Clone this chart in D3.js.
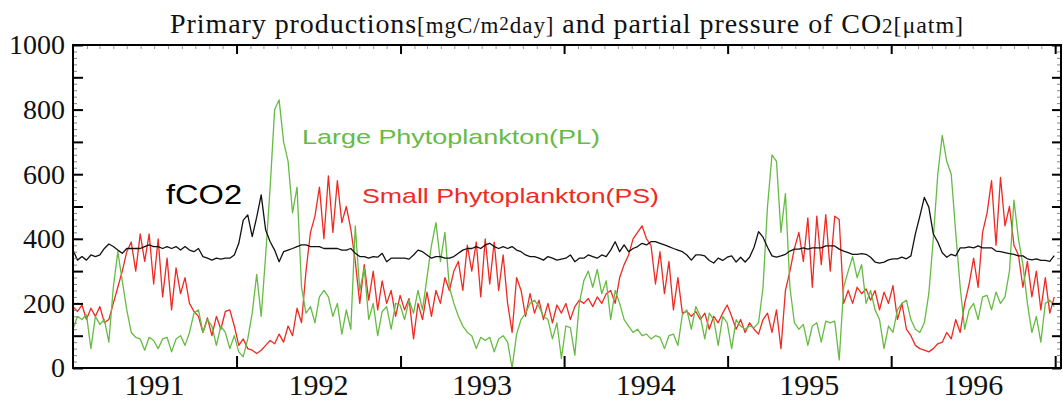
<!DOCTYPE html>
<html>
<head>
<meta charset="utf-8">
<script src="https://cdn.jsdelivr.net/npm/d3@7"></script>
<style>
  body { margin: 0; background: #fff; }
  svg { display: block; }
</style>
</head>
<body>
<svg width="1063" height="403"></svg>
<script>
// series sampled every 10 days from 1 Jan 1991
const startDate = new Date(1991, 0, 1)
const stepDays = 10

const yearLabels = ['1991', '1992', '1993', '1994', '1995', '1996']
const yLabelTicks = [0, 200, 400, 600, 800, 1000]
const yMajorTicks = [0, 100, 200, 300, 400, 500, 600, 700, 800, 900, 1000]

// fCO2 [uatm]
const fco2 = [
  365, 334, 345, 334, 350, 345, 350, 370, 384, 376,
  365, 355, 370, 370, 370, 370, 376, 381, 376, 376,
  370, 376, 370, 376, 365, 376, 365, 360, 370, 345,
  340, 334, 340, 337, 340, 340, 350, 386, 458, 474,
  407, 467, 536, 427, 391, 365, 329, 360, 365, 370,
  376, 381, 381, 376, 376, 376, 370, 370, 370, 370,
  365, 365, 370, 355, 345, 345, 340, 345, 343, 355,
  329, 340, 340, 340, 340, 337, 350, 365, 360, 350,
  340, 345, 345, 340, 340, 345, 355, 365, 370, 370,
  376, 370, 381, 386, 376, 370, 376, 370, 376, 365,
  360, 350, 345, 345, 340, 334, 345, 340, 334, 337,
  340, 350, 329, 340, 340, 350, 345, 340, 350, 345,
  365, 391, 360, 381, 360, 370, 376, 386, 381, 391,
  391, 386, 381, 376, 370, 365, 360, 350, 334, 350,
  350, 347, 333, 325, 340, 333, 343, 347, 328, 343,
  328, 343, 374, 422, 405, 374, 347, 343, 347, 352,
  362, 368, 368, 372, 368, 372, 372, 372, 378, 378,
  378, 368, 362, 357, 352, 352, 354, 352, 343, 328,
  325, 328, 335, 338, 338, 343, 338, 347, 415, 470,
  528, 498, 415, 390, 357, 343, 352, 347, 372, 372,
  375, 372, 378, 372, 372, 372, 362, 360, 357, 354,
  352, 347, 347, 338, 335, 338, 333, 333, 330, 348
]

// Small Phytoplankton (PS) [mgC/m2day]
const ps = [
  190, 175, 195, 150, 185, 160, 190, 140, 150, 200,
  250, 300, 360, 390, 300, 415, 330, 415, 260, 400,
  220, 340, 180, 310, 230, 280, 200, 175, 160, 110,
  155, 100, 160, 120, 175, 180, 130, 70, 90, 60,
  55, 45, 55, 70, 85, 75, 105, 80, 130, 100,
  185, 140, 300, 420, 470, 560, 400, 595, 420, 580,
  450, 500, 430, 330, 200, 320, 210, 300, 180, 270,
  200, 240, 160, 225, 180, 215, 90, 200, 150, 235,
  160, 240, 200, 280, 240, 300, 330, 240, 380, 300,
  390, 220, 400, 260, 390, 240, 350, 200, 110, 280,
  240, 160, 230, 170, 210, 150, 200, 140, 195, 170,
  200, 150, 190, 210, 200, 215, 190, 220, 200, 230,
  240, 200, 280, 320, 350, 400, 420, 440, 400, 380,
  260, 360, 230, 330, 180, 280, 170, 175, 160, 175,
  150, 170, 120, 160, 140, 170, 195, 160, 120, 150,
  110, 140, 120, 105, 150, 170, 110, 180, 60, 240,
  300, 370, 420, 330, 465, 250, 470, 320, 475, 300,
  470, 460, 200, 240, 200, 250, 230, 245, 210, 240,
  180, 235, 200, 255, 150, 200, 120, 100, 70, 60,
  55, 50, 60, 75, 80, 110, 90, 150, 110, 200,
  260, 340, 250, 420, 480, 580, 380, 590, 440, 500,
  380, 350, 250, 330, 220, 300, 180, 280, 170, 220
]

// Large Phytoplankton (PL) [mgC/m2day]
const pl = [
  120, 160, 150, 165, 60, 160, 135, 150, 80, 250,
  360, 270, 180, 110, 95, 90, 55, 95, 85, 60,
  90, 95, 50, 90, 100, 70, 110, 170, 180, 110,
  150, 130, 70, 130, 110, 60, 100, 50, 35, 90,
  170, 290, 160, 350, 560, 800, 830, 700, 640, 480,
  560, 250, 170, 190, 140, 220, 240, 220, 160, 200,
  105, 180, 120, 440, 240, 310, 150, 200, 100, 175,
  190, 120, 200, 195, 150, 210, 170, 240, 180, 280,
  380, 450, 330, 420, 250, 200, 160, 130, 110, 100,
  60, 95, 85, 95, 50, 90, 100, 80, 0, 105,
  150, 170, 200, 210, 190, 160, 150, 90, 140, 30,
  130, 125, 40, 200, 270, 300, 250, 305, 230, 270,
  150, 240, 200, 150, 130, 110, 120, 100, 105, 90,
  100, 95, 60, 100, 105, 70, 165, 180, 120, 190,
  160, 90, 170, 150, 70, 160, 140, 60, 150, 130,
  120, 130, 125, 140, 250, 500, 660, 640, 420, 540,
  250, 140, 120, 135, 70, 130, 140, 80, 145, 140,
  145, 25, 250, 300, 345, 280, 320, 200, 240, 180,
  150, 60, 130, 110, 180, 200, 210, 150, 120, 110,
  140, 230, 400, 600, 720, 640, 600, 420, 250, 120,
  180, 200, 150, 220, 225, 180, 235, 200, 220, 300,
  520, 400, 320, 200, 110, 160, 80, 200, 210, 190
]

const svg = d3.select('svg')
const margin = { top: 45, right: 2, bottom: 35, left: 73 }
const width = +svg.attr('width')
const height = +svg.attr('height')
const plotRight = width - margin.right
const plotBottom = height - margin.bottom

const x = d3.scaleTime()
  .domain([startDate, new Date(1997, 0, 14)])
  .range([margin.left, plotRight])

const y = d3.scaleLinear()
  .domain([0, 1000])
  .range([plotBottom, margin.top])

const dateAt = i => d3.timeDay.offset(startDate, i * stepDays)

const serif = '"Liberation Serif", "DejaVu Serif", serif'
const sans = '"Liberation Sans", Arial, sans-serif'

// title
const title = svg.append('text')
  .attr('x', 170)
  .attr('y', 33)
  .attr('textLength', 793)
  .attr('lengthAdjust', 'spacing')
  .style('font-family', serif)
  .style('font-size', '28px')
  .attr('fill', '#111')
title.append('tspan').text('Primary productions')
title.append('tspan').style('font-size', '23px').text('[mgC/m')
title.append('tspan').style('font-size', '19px').attr('dy', -3).text('2')
title.append('tspan').style('font-size', '23px').attr('dy', 3).text('day]')
title.append('tspan').text(' and partial pressure of CO')
title.append('tspan').style('font-size', '21px').text('2')
title.append('tspan').style('font-size', '24px').text('[\u03bcatm]')

// lines
const line = d3.line()
  .x((d, i) => x(dateAt(i)))
  .y(d => y(d))

const plot = svg.append('g')

plot.append('path')
  .datum(ps)
  .attr('fill', 'none')
  .attr('stroke', '#ee2a22')
  .attr('stroke-width', 1.3)
  .attr('stroke-linejoin', 'round')
  .attr('d', line)

plot.append('path')
  .datum(pl)
  .attr('fill', 'none')
  .attr('stroke', '#66bb44')
  .attr('stroke-width', 1.3)
  .attr('stroke-linejoin', 'round')
  .attr('d', line)

plot.append('path')
  .datum(fco2)
  .attr('fill', 'none')
  .attr('stroke', '#111')
  .attr('stroke-width', 1.3)
  .attr('stroke-linejoin', 'round')
  .attr('d', line)

// axes
const years = d3.timeYear.range(new Date(1991, 0, 1), new Date(1997, 0, 2))
const innerYears = years.slice(1)

const styleAxis = g => {
  g.select('.domain').remove()
  g.selectAll('.tick line').attr('stroke', '#000').attr('stroke-width', 2)
}

// y minor ticks (left and right)
svg.append('g')
  .attr('transform', `translate(${margin.left},0)`)
  .call(d3.axisLeft(y).tickValues(d3.range(0, 1001, 20)).tickSize(-4).tickFormat(''))
  .call(g => g.select('.domain').remove())
  .call(g => g.selectAll('.tick line').attr('stroke', '#888').attr('stroke-width', 1))

svg.append('g')
  .attr('transform', `translate(${plotRight},0)`)
  .call(d3.axisRight(y).tickValues(d3.range(0, 1001, 20)).tickSize(-4).tickFormat(''))
  .call(g => g.select('.domain').remove())
  .call(g => g.selectAll('.tick line').attr('stroke', '#888').attr('stroke-width', 1))

const yAxisG = svg.append('g')
  .attr('transform', `translate(${margin.left},0)`)
  .call(d3.axisLeft(y).tickValues(yMajorTicks).tickSize(-10).tickPadding(8)
    .tickFormat(d => yLabelTicks.includes(d) ? d : ''))
  .call(styleAxis)
yAxisG.selectAll('.tick text')
  .style('font-family', serif)
  .style('font-size', '28px')
  .attr('fill', '#111')

svg.append('g')
  .attr('transform', `translate(${plotRight},0)`)
  .call(d3.axisRight(y).tickValues(yMajorTicks).tickSize(-9).tickFormat(''))
  .call(styleAxis)

// top axis: monthly minor + yearly major
svg.append('g')
  .attr('transform', `translate(0,${margin.top})`)
  .call(d3.axisTop(x).ticks(d3.timeMonth).tickSize(-4).tickFormat(''))
  .call(g => g.select('.domain').remove())
  .call(g => g.selectAll('.tick line').attr('stroke', '#999').attr('stroke-width', 1))

svg.append('g')
  .attr('transform', `translate(0,${margin.top})`)
  .call(d3.axisTop(x).tickValues(innerYears).tickSize(-9).tickFormat(''))
  .call(styleAxis)

// bottom axis: year boundaries + labels in mid-year
svg.append('g')
  .attr('transform', `translate(0,${plotBottom})`)
  .call(d3.axisBottom(x).tickValues(innerYears).tickSize(-12).tickFormat(''))
  .call(styleAxis)

svg.append('g')
  .selectAll('text')
  .data(yearLabels)
  .enter()
  .append('text')
  .attr('x', d => x(new Date(+d, 6, 2)))
  .attr('y', 395)
  .attr('text-anchor', 'middle')
  .style('font-family', serif)
  .style('font-size', '30px')
  .attr('fill', '#111')
  .text(d => d)

// frame
svg.append('rect')
  .attr('x', margin.left)
  .attr('y', margin.top)
  .attr('width', plotRight - margin.left)
  .attr('height', plotBottom - margin.top)
  .attr('fill', 'none')
  .attr('stroke', '#000')
  .attr('stroke-width', 2)

// series labels
svg.append('text')
  .attr('x', 302).attr('y', 144)
  .attr('textLength', 298).attr('lengthAdjust', 'spacingAndGlyphs')
  .style('font-family', sans).style('font-size', '21px')
  .attr('fill', '#66bb44')
  .text('Large Phytoplankton(PL)')

svg.append('text')
  .attr('x', 362).attr('y', 203)
  .attr('textLength', 297).attr('lengthAdjust', 'spacingAndGlyphs')
  .style('font-family', sans).style('font-size', '21px')
  .attr('fill', '#ee2a22')
  .text('Small Phytoplankton(PS)')

svg.append('text')
  .attr('x', 166).attr('y', 204)
  .attr('textLength', 76).attr('lengthAdjust', 'spacingAndGlyphs')
  .style('font-family', sans).style('font-size', '27px')
  .attr('fill', '#000')
  .text('fCO2')
</script>
</body>
</html>
